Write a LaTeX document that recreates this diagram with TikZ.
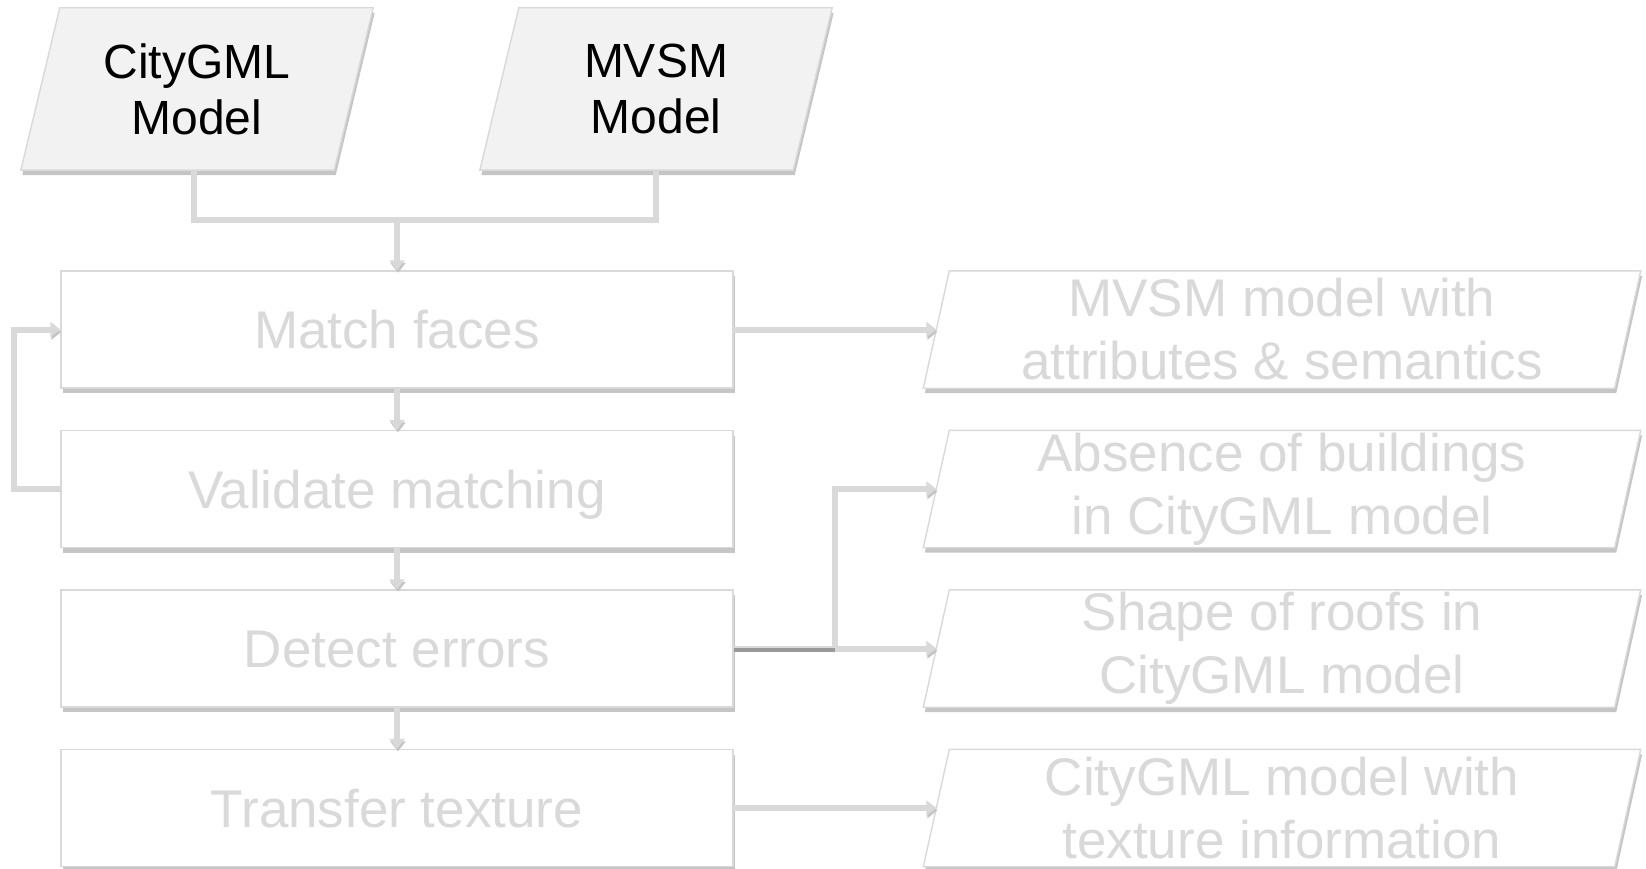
\documentclass[tikz,border=0pt]{standalone}
\usepackage{fontspec}
\setmainfont{Liberation Sans}
\usetikzlibrary{shadows,arrows.meta}
\definecolor{lgray}{HTML}{D9D9D9}
\definecolor{sgray}{HTML}{C4C4C4}
\definecolor{infill}{HTML}{F2F2F2}
\tikzset{
  boxshadow/.style={drop shadow={shadow xshift=1.5pt,shadow yshift=-5pt,fill=black!30,opacity=0.75}},
  procbox/.style={rectangle,draw=lgray,line width=1.4pt,fill=white,minimum width=672pt,minimum height=117pt,inner sep=0pt,boxshadow},
  frame/.style={rectangle,draw=none,inner sep=0pt},
  paraline/.style={draw=lgray,line width=1.4pt,fill=white,boxshadow},
  inparaline/.style={draw=lgray,line width=1.4pt,fill=infill,boxshadow},
  graytxt/.style={text=lgray,align=center,font=\fontsize{53}{63}\selectfont,inner sep=0pt},
  onetxt/.style={graytxt,text height=38pt,text depth=0pt},
  blacktxt/.style={text=black,align=center,font=\fontsize{48}{56}\selectfont,inner sep=0pt},
  conn/.style={line width=6pt,draw=lgray,-{Triangle[width=15pt,length=10pt]},
    preaction={draw=sgray,transform canvas={xshift=1pt,yshift=-2.5pt}}},
  connplain/.style={line width=6pt,draw=lgray,
    preaction={draw=sgray,transform canvas={xshift=1pt,yshift=-2.5pt}}},
}
\newcommand{\parashape}[3]{% style, node name, slant
  \path[#1] ([xshift=#3pt]#2.north west) -- (#2.north east) -- ([xshift=-#3pt]#2.south east) -- (#2.south west) -- cycle;}
\begin{document}
\begin{tikzpicture}[x=1pt,y=-1pt]
\useasboundingbox (0,0) rectangle (1646,869);
% input data
\node[frame,minimum width=352pt,minimum height=162pt] (cg) at (197,89) {};
\parashape{inparaline}{cg}{39}
\node[blacktxt] (cgt) at (cg.center) {CityGML\\Model};
\node[frame,minimum width=352pt,minimum height=162pt] (mv) at (656,89) {};
\parashape{inparaline}{mv}{39}
\node[blacktxt] (mvt) at (mv.center) {MVSM\\Model};
% process boxes
\node[procbox] (match) at (397,329.5) {};
\node[onetxt] (matcht) at (match.center) {Match faces};
\node[procbox] (val) at (397,489) {};
\node[onetxt] (valt) at (val.center) {Validate matching};
\node[procbox] (det) at (397,648.5) {};
\node[onetxt] (dett) at (det.center) {Detect errors};
\node[procbox] (tr) at (397,808) {};
\node[onetxt] (trt) at (tr.center) {Transfer texture};
% outputs
\foreach \n/\y in {o1/329.5,o2/489,o3/648.5,o4/808}{
  \node[frame,minimum width=717pt,minimum height=117pt] (\n) at (1282,\y) {};
  \parashape{paraline}{\n}{26}
}
\node[graytxt] (o1t) at (o1.center) {MVSM model with\\attributes \& semantics};
\node[graytxt] (o2t) at (o2.center) {Absence of buildings\\in CityGML model};
\node[graytxt] (o3t) at (o3.center) {Shape of roofs in\\CityGML model};
\node[graytxt] (o4t) at (o4.center) {CityGML model with\\texture information};
% connectors
\coordinate (j) at (397,220);
\draw[connplain] ([xshift=-3pt]cg.south) |- (j) -| (mv.south);
\draw[conn] (j) -- (match.north);
\draw[conn] (match.south) -- (val.north);
\draw[conn] (val.south) -- (det.north);
\draw[conn] (det.south) -- (tr.north);
\draw[conn] (val.west) -- ++(-46,0) |- (match.west);
\draw[conn] (match.east) -- ([xshift=13pt]o1.west);
\coordinate (br) at (835,648.5);
\draw[conn] (det.east) -- (br) |- ([xshift=13pt]o2.west);
\draw[conn] (br) -- ([xshift=13pt]o3.west);
\draw[line width=3.5pt,draw=black!40,transform canvas={yshift=-1.5pt}] (det.east) -- (br);
\draw[conn] (tr.east) -- ([xshift=13pt]o4.west);
\end{tikzpicture}
\end{document}
